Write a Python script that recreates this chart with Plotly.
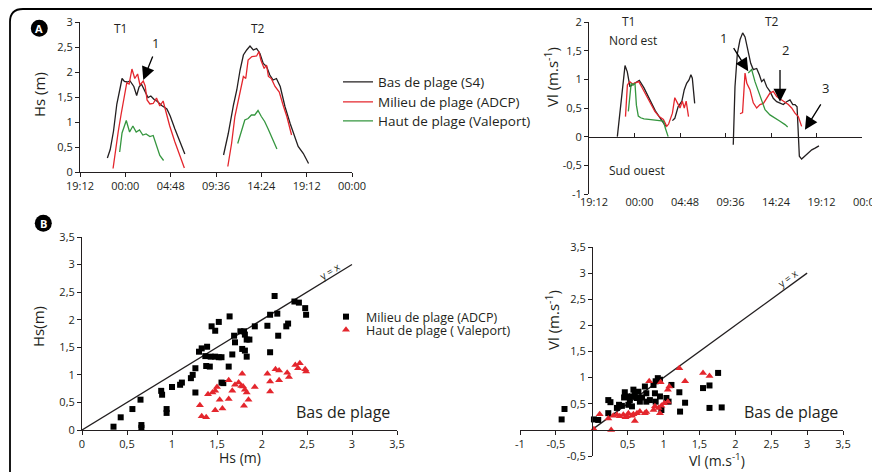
import plotly.graph_objects as go

# The page body has an 8px default margin: the figure is sized and mapped so that
# reference pixel coordinates (x, y) land on the same spot of the 880x472 window.
OFF = 8
W, H = 880 - OFF, 472 - OFF
def px(x): return (x - OFF) / W
def py(y): return 1 - (y - OFF) / H

FONT = "Open Sans"
INK = "#231f20"
RED = "#e4262d"
GREEN = "#35963f"

# ---------------- data ----------------
time_ticks = [0, 4.8, 9.6, 14.4, 19.2, 24.0, 28.8]          # hours after 19:12
time_labels = ["19:12", "00:00", "04:48", "09:36", "14:24", "19:12", "00:00"]

series_names = ["Bas de plage (S4)", "Milieu de plage (ADCP)", "Haut de plage (Valeport)"]
scatter_names = ["Milieu de plage (ADCP)", "Haut de plage ( Valeport)"]

# Hs (m) time series, T1 and T2 separated by None
hs_bas_t = [2.9, 3.2, 3.55, 3.9, 4.25, 4.45, 4.7, 5.0, 5.3, 5.7, 6.0, 6.25, 6.5, 6.85, 7.2, 7.5, 7.85, 8.2, 8.65, 9.2, 9.55, 10.05, 10.6, 11.1,
            None,
            15.2, 15.7, 16.25, 16.6, 16.95, 17.3, 17.65, 18.0, 18.35, 18.7, 19.05, 19.4, 19.75, 20.1, 20.45, 20.8, 21.2, 21.7, 22.25, 22.75, 23.1, 23.65, 24.2]
hs_bas_v = [0.28, 0.45, 0.82, 1.36, 1.68, 1.87, 1.81, 1.80, 1.82, 1.71, 1.53, 1.70, 1.76, 1.62, 1.49, 1.52, 1.45, 1.41, 1.33, 1.26, 1.12, 0.86, 0.60, 0.36,
            None,
            0.34, 0.77, 1.34, 1.64, 2.04, 2.34, 2.44, 2.52, 2.44, 2.47, 2.37, 2.17, 2.11, 1.94, 1.84, 1.87, 1.71, 1.31, 0.97, 0.71, 0.51, 0.37, 0.17]

hs_mil_t = [3.5, 3.75, 4.05, 4.35, 4.6, 4.95, 5.2, 5.5, 5.8, 6.1, 6.35, 6.7, 6.9, 7.1, 7.4, 7.75, 8.1, 8.45, 8.8, 9.05, 9.5, 10.05, 10.6, 11.05,
            None,
            15.65, 16.05, 16.4, 16.95, 17.3, 17.55, 17.8, 18.2, 18.7, 18.95, 19.15, 19.5, 19.75, 19.95, 20.25, 20.65, 21.1, 21.5, 21.9, 22.4]
hs_mil_v = [0.07, 0.45, 0.81, 1.15, 1.45, 1.78, 1.76, 2.06, 1.87, 1.96, 1.74, 1.82, 1.72, 1.44, 1.36, 1.37, 1.48, 1.32, 1.42, 1.22, 0.92, 0.60, 0.33, 0.08,
            None,
            0.11, 0.57, 1.11, 1.64, 1.91, 1.87, 2.24, 2.31, 2.32, 2.41, 2.24, 2.07, 2.14, 1.91, 1.87, 1.71, 1.60, 1.34, 1.11, 0.74]

hs_hau_t = [4.2, 4.45, 4.9, 5.25, 5.6, 5.95, 6.3, 6.65, 7.0, 7.4, 7.75, 8.1, 8.45, 8.85,
            None,
            16.7, 17.1, 17.45, 17.8, 18.15, 18.5, 18.85, 19.2, 19.55, 19.9, 20.3, 20.85]
hs_hau_v = [0.40, 0.78, 1.03, 0.80, 0.92, 0.80, 0.84, 0.74, 0.76, 0.71, 0.73, 0.54, 0.33, 0.23,
            None,
            0.57, 0.84, 1.04, 1.07, 1.14, 1.14, 1.23, 1.11, 1.01, 0.87, 0.71, 0.46]

# Vl (m/s) time series
vl_bas_t = [2.99, 3.27, 3.55, 3.8, 4.04, 4.32, 4.6, 4.85, 5.31, 5.8, 6.4, 7.0, 7.6, 8.1,
            None,
            8.8, 9.05, 9.4, 9.8, 10.05, 10.3, 10.55, 10.75, 10.9, 11.15,
            None,
            15.22, 15.4, 15.65, 15.93, 16.21, 16.46, 16.8, 17.06, 17.33, 17.69, 17.97, 18.21, 18.45, 18.75, 19.09, 19.44, 19.8,
            20.15, 20.5, 20.85, 21.2, 21.5, 21.73, 21.95, 22.08, 22.19, 22.43, 22.78, 23.1, 23.5, 23.85, 24.26]
vl_bas_v = [0.0, 0.47, 0.93, 1.24, 1.13, 0.87, 0.91, 0.94, 0.98, 0.85, 0.65, 0.45, 0.30, 0.18,
            None,
            0.28, 0.32, 0.52, 0.62, 0.82, 0.93, 0.99, 1.08, 1.02, 0.58,
            None,
            -0.14, 0.87, 1.45, 1.69, 1.81, 1.74, 1.48, 1.28, 1.17, 1.19, 1.08, 0.96, 1.00, 0.87, 0.79, 0.67, 0.61,
            0.58, 0.56, 0.61, 0.64, 0.56, 0.56, 0.52, 0.0, -0.34, -0.39, -0.34, -0.28, -0.23, -0.20, -0.16]

vl_mil_t = [3.85, 4.05, 4.3, 4.6, 4.9, 5.25, 5.55, 5.9, 6.25, 6.6, 6.95, 7.4, 7.85, 8.2, 8.4, 8.8, 9.05, 9.35, 9.6, 9.85, 10.05, 10.25, 10.5,
            None,
            15.93, 16.2, 16.46, 16.65, 16.98, 17.33, 17.69, 18.04, 18.4, 18.75, 19.09, 19.44, 19.8, 20.33, 20.7, 21.03, 21.38, 21.73, 22.08, 22.43]
vl_mil_v = [0.35, 0.90, 0.96, 0.92, 0.94, 0.96, 0.87, 0.76, 0.64, 0.53, 0.44, 0.35, 0.30, 0.18, 0.22, 0.41, 0.68, 0.58, 0.50, 0.62, 0.50, 0.62, 0.35,
            None,
            0.40, 0.42, 1.11, 0.93, 0.82, 0.59, 0.50, 0.56, 0.58, 0.67, 0.76, 0.79, 0.70, 0.64, 0.60, 0.56, 0.50, 0.41, 0.35, 0.18]

vl_hau_t = [4.15, 4.45, 4.65, 4.85, 5.0, 5.2, 5.45, 5.8, 6.3, 6.9, 7.5, 7.85, 8.05, 8.35,
            None,
            16.8, 17.16, 17.51, 17.86, 18.21, 18.57, 19.09, 19.62, 20.15, 20.68, 20.96]
vl_hau_v = [0.44, 0.93, 0.90, 0.93, 0.55, 0.36, 0.33, 0.31, 0.30, 0.29, 0.28, 0.27, 0.15, 0.0,
            None,
            1.11, 1.17, 0.96, 0.79, 0.61, 0.47, 0.38, 0.33, 0.27, 0.21, 0.17]

# Scatter B: Hs bas de plage vs Hs milieu / haut
hs_x_mil = [0.35, 0.43, 0.56, 0.65, 0.66, 0.66, 0.88, 0.89, 0.94, 0.94, 1.00, 1.09, 1.11, 1.21, 1.23, 1.26, 1.26,
            1.30, 1.33, 1.39, 1.37, 1.43, 1.38, 1.42, 1.44, 1.48, 1.48, 1.52, 1.55, 1.55, 1.57, 1.52,
            1.64, 1.69, 1.67, 1.63, 1.70, 1.76, 1.80, 1.78, 1.81, 1.81, 1.83, 1.83, 1.86, 1.92,
            2.06, 2.09, 2.09, 2.14, 2.17, 2.18, 2.27, 2.29, 2.36, 2.41, 2.48, 2.49]
hs_y_mil = [0.06, 0.23, 0.38, 0.55, 0.09, 0.04, 0.71, 0.64, 0.38, 0.31, 0.78, 0.82, 0.86, 0.94, 1.00, 1.12, 0.68,
            1.42, 1.48, 1.51, 1.34, 1.33, 1.16, 1.15, 1.88, 1.80, 1.33, 1.32, 1.32, 0.86, 0.85, 1.96,
            2.06, 1.71, 1.37, 1.15, 1.59, 1.79, 1.79, 1.47, 1.73, 1.44, 1.33, 1.64, 1.64, 1.88,
            1.89, 1.41, 2.09, 2.43, 2.11, 1.71, 1.88, 1.93, 2.33, 2.31, 2.21, 2.09]
hs_x_hau = [1.31, 1.33, 1.38, 1.40, 1.45, 1.48, 1.50, 1.48, 1.53, 1.56, 1.63, 1.63, 1.67, 1.70, 1.74, 1.77, 1.78, 1.79,
            1.81, 1.80, 1.83, 1.85, 1.92, 2.06, 2.09, 2.09, 2.15, 2.19, 2.19, 2.28, 2.30, 2.37, 2.40, 2.42, 2.48, 2.49]
hs_y_hau = [0.45, 0.25, 0.23, 0.65, 0.68, 0.71, 0.78, 0.36, 0.55, 0.39, 0.90, 0.56, 0.71, 0.82, 0.86, 0.80, 1.02, 0.79,
            0.73, 0.44, 0.68, 0.55, 0.78, 1.02, 0.88, 0.70, 1.10, 1.08, 0.90, 1.04, 0.96, 1.18, 1.12, 1.21, 1.10, 1.06]

# Scatter B: Vl bas de plage vs Vl milieu / haut
vl_x_mil = [-0.42, -0.38, 0.03, 0.09, 0.23, 0.26, 0.23, 0.35, 0.42, 0.46, 0.49, 0.51, 0.53, 0.56, 0.58, 0.60, 0.63, 0.65, 0.67,
            0.74, 0.76, 0.86, 0.88, 0.92, 0.89, 0.95, 0.76, 0.81, 0.89, 0.95, 0.97, 1.04, 1.07, 1.11, 1.22, 1.23, 1.30,
            1.55, 1.64, 1.64, 1.76, 1.81, 0.56, 0.45, 0.70, 0.38]
vl_y_mil = [0.20, 0.40, 0.20, 0.19, 0.57, 0.53, 0.32, 0.42, 0.46, 0.72, 0.64, 0.48, 0.57, 0.64, 0.77, 0.70, 0.61, 0.73, 0.54,
            0.83, 0.70, 0.86, 0.70, 0.99, 0.93, 0.96, 0.54, 0.57, 0.54, 0.64, 0.38, 0.61, 0.54, 0.86, 0.72, 0.35, 0.52,
            0.80, 0.85, 0.42, 1.09, 0.43, 0.45, 0.62, 0.62, 0.48]
vl_x_hau = [0.03, 0.11, 0.27, 0.23, 0.30, 0.35, 0.39, 0.44, 0.49, 0.51, 0.56, 0.60, 0.63, 0.67, 0.74, 0.76, 0.80,
            0.86, 0.88, 0.93, 0.95, 0.97, 0.96, 1.01, 1.06, 1.08, 1.06, 1.22, 1.30, 1.55, 1.64, 0.47, 0.58]
vl_y_hau = [0.01, 0.30, 0.00, 0.22, 0.27, 0.29, 0.26, 0.29, 0.26, 0.32, 0.27, 0.17, 0.32, 0.35, 0.32, 0.34, 0.93,
            0.38, 0.45, 0.42, 0.32, 0.46, 0.91, 0.51, 0.77, 0.83, 0.54, 1.18, 0.93, 1.09, 1.03, 0.24, 0.30]

identity_line = [0, 3]

hs_ticks = [0, 0.5, 1, 1.5, 2, 2.5, 3, 3.5]
vl_a_ticks = [-1, -0.5, 0, 0.5, 1, 1.5, 2]
vl_a_labels = ["-1", "-0,5", "0", "0,5", "1", "1,5", "2"]
vl_bx_ticks = [-1, -0.5, 0.5, 1, 1.5, 2, 2.5, 3, 3.5]
vl_bx_labels = ["-1", "-0,5", "0,5", "1", "1,5", "2", "2,5", "3", "3,5"]
vl_by_ticks = [-0.5, 0.5, 1, 1.5, 2, 2.5, 3, 3.5]
vl_by_labels = ["-0,5", "0,5", "1", "1,5", "2", "2,5", "3", "3,5"]

# ---------------- figure ----------------
fig = go.Figure()
line_w = 1.3

# A left: Hs (each series in its own one-item legend for exact spacing)
for tt, vv, col, name, lg in [(hs_bas_t, hs_bas_v, INK, series_names[0], "legend"),
                              (hs_mil_t, hs_mil_v, RED, series_names[1], "legend2"),
                              (hs_hau_t, hs_hau_v, GREEN, series_names[2], "legend3")]:
    fig.add_trace(go.Scatter(x=tt, y=vv, mode="lines", line=dict(color=col, width=line_w),
                             name=name, xaxis="x", yaxis="y", legend=lg, connectgaps=False))

# A right: Vl
fig.add_trace(go.Scatter(x=vl_bas_t, y=vl_bas_v, mode="lines", line=dict(color=INK, width=line_w),
                         showlegend=False, xaxis="x2", yaxis="y2"))
fig.add_trace(go.Scatter(x=vl_mil_t, y=vl_mil_v, mode="lines", line=dict(color=RED, width=line_w),
                         showlegend=False, xaxis="x5", yaxis="y2"))
fig.add_trace(go.Scatter(x=vl_hau_t, y=vl_hau_v, mode="lines", line=dict(color=GREEN, width=line_w),
                         showlegend=False, xaxis="x5", yaxis="y2"))

# B left
fig.add_trace(go.Scatter(x=identity_line, y=identity_line, mode="lines", line=dict(color=INK, width=1.3),
                         showlegend=False, xaxis="x3", yaxis="y3"))
fig.add_trace(go.Scatter(x=hs_x_mil, y=hs_y_mil, mode="markers", name=scatter_names[0],
                         marker=dict(symbol="square", size=6, color="black"),
                         xaxis="x3", yaxis="y3", legend="legend4"))
fig.add_trace(go.Scatter(x=hs_x_hau, y=hs_y_hau, mode="markers", name=scatter_names[1],
                         marker=dict(symbol="triangle-up", size=7, color=RED),
                         xaxis="x3", yaxis="y3", legend="legend5"))

# B right
fig.add_trace(go.Scatter(x=identity_line, y=identity_line, mode="lines", line=dict(color=INK, width=1.3),
                         showlegend=False, xaxis="x4", yaxis="y4"))
fig.add_trace(go.Scatter(x=vl_x_mil, y=vl_y_mil, mode="markers", showlegend=False,
                         marker=dict(symbol="square", size=6, color="black"), xaxis="x4", yaxis="y4"))
fig.add_trace(go.Scatter(x=vl_x_hau, y=vl_y_hau, mode="markers", showlegend=False,
                         marker=dict(symbol="triangle-up", size=7, color=RED), xaxis="x4", yaxis="y4"))

tickfont = dict(family=FONT, size=11, color=INK)
def ax(**kw):
    base = dict(showgrid=False, zeroline=False, showline=True, linecolor=INK, linewidth=1,
                ticks="outside", ticklen=4, tickwidth=1, tickcolor=INK, tickfont=tickfont,
                fixedrange=True, automargin=False)
    base.update(kw)
    return base

def leg(x, y, size=13.5):
    return dict(x=px(x), y=py(y), xanchor="left", yanchor="middle", bgcolor="rgba(0,0,0,0)",
                font=dict(family=FONT, size=size, color=INK), tracegroupgap=0, borderwidth=0)

layout = dict(
    width=W, height=H, margin=dict(l=0, r=0, t=0, b=0, pad=0, autoexpand=False), autosize=False,
    paper_bgcolor="white", plot_bgcolor="white", separators=", ",
    font=dict(family=FONT, color=INK),
    xaxis=ax(domain=[px(80), px(352)], range=[0, 28.8], tickvals=time_ticks, ticktext=time_labels, anchor="y"),
    yaxis=ax(domain=[py(172), py(22)], range=[0, 3], dtick=0.5, tick0=0, anchor="x"),
    xaxis2=ax(domain=[px(589), px(862)], range=[0, 28.8], tickvals=time_ticks, ticktext=time_labels,
              anchor="y2", showline=False, ticks="", ticklabelshift=5, ticklabeloverflow="allow"),
    xaxis5=ax(domain=[px(589), px(862)], range=[0, 28.8], tickvals=time_ticks, overlaying="x2",
              anchor="free", position=py(137), ticks="inside", showticklabels=False),
    yaxis2=ax(domain=[py(194), py(22)], range=[-1, 2], tickvals=vl_a_ticks, ticktext=vl_a_labels, anchor="x2"),
    xaxis3=ax(domain=[px(82), px(397)], range=[0, 3.5], tickvals=hs_ticks, anchor="y3"),
    yaxis3=ax(domain=[py(430), py(237)], range=[0, 3.5], tickvals=hs_ticks, anchor="x3"),
    xaxis4=ax(domain=[px(520), px(843)], range=[-1, 3.5], tickvals=vl_bx_ticks, ticktext=vl_bx_labels,
              anchor="free", position=py(430)),
    yaxis4=ax(domain=[py(456), py(247)], range=[-0.5, 3.5], tickvals=vl_by_ticks, ticktext=vl_by_labels,
              anchor="free", position=px(592)),
    legend=leg(338, 82),
    legend2=leg(338, 102),
    legend3=leg(338, 121),
    legend4=leg(326, 317, 12.5),
    legend5=leg(326, 330, 12.5),
)
fig.update_layout(**layout)

ann = []
def txt(x, y, s, size=12, angle=0, color=INK, **kw):
    d = dict(x=px(x), y=py(y), xref="paper", yref="paper", text=s, showarrow=False,
             font=dict(family=FONT, size=size, color=color), textangle=angle, xanchor="center", yanchor="middle")
    d.update(kw)
    ann.append(d)

# axis titles
txt(39, 95, "Hs (m)", size=15, angle=-90)
txt(551, 77, "Vl (m.s<sup>-1</sup>)", size=15, angle=-90)
txt(38, 327, "Hs(m)", size=15, angle=-90)
txt(240, 457, "Hs (m)", size=14)
txt(552, 320, "Vl (m.s<sup>-1</sup>)", size=15, angle=-90)
txt(717, 460, "Vl (m.s<sup>-1</sup>)", size=14)

# panel labels
txt(120, 28, "T1", size=12)
txt(258, 28, "T2", size=12)
txt(628, 22, "T1", size=12)
txt(772, 22, "T2", size=12)
txt(633, 40, "Nord est", size=12)
txt(637, 170, "Sud ouest", size=12)
txt(343, 412, "Bas de plage", size=16)
txt(791, 412, "Bas de plage", size=16)
txt(330, 271, "y = x", size=10, angle=-31.5)
txt(788, 278, "y = x", size=10, angle=-36)

# arrow numbers
txt(155, 43, "1", size=13)
txt(723, 38, "1", size=13)
txt(785, 50, "2", size=13)
txt(825, 88, "3", size=13)

# badges
txt(39.3, 28.5, "<b>A</b>", size=11, color="white")
txt(43.3, 223.5, "<b>B</b>", size=11, color="white")

# arrows (data coordinates)
def arrow(xr, yr, hx, hy, tx, ty):
    ann.append(dict(x=hx, y=hy, ax=tx, ay=ty, xref=xr, yref=yr, axref=xr, ayref=yr, text="",
                    showarrow=True, arrowhead=2, arrowsize=2, arrowwidth=1.3, arrowcolor="black"))
arrow("x", "y", 6.70, 1.84, 7.76, 2.34)
arrow("x2", "y2", 16.8, 1.14, 15.16, 1.57)
arrow("x2", "y2", 20.15, 0.61, 20.15, 1.19)
arrow("x2", "y2", 22.78, 0.12, 24.55, 0.59)

fig.update_layout(annotations=ann)

shapes = []
for cx, cy in [(39.3, 28.3), (43.3, 223.3)]:
    r = 8.5
    shapes.append(dict(type="circle", xref="paper", yref="paper", x0=px(cx - r), x1=px(cx + r),
                       y0=py(cy + r), y1=py(cy - r), fillcolor="black", line=dict(color="black", width=0)))
# outer rounded frame (top-left corner visible, other edges run off the picture)
path = (f"M {px(10)},{py(490)} L {px(10)},{py(22)} Q {px(10)},{py(9)} {px(23)},{py(9)} L {px(900)},{py(9)}")
shapes.append(dict(type="path", xref="paper", yref="paper", path=path, line=dict(color="black", width=1.8)))
fig.update_layout(shapes=shapes)

fig.write_html("out.html")
